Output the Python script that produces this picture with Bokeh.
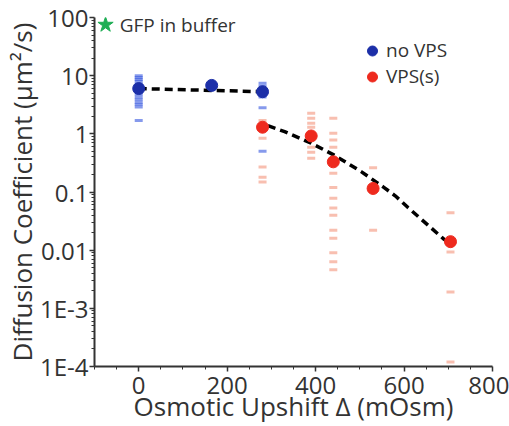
from bokeh.plotting import figure
from bokeh.models import (Range1d, FixedTicker, CustomJSTickFormatter, Legend,
                          LegendItem, Label)
from bokeh.embed import file_html
from bokeh.resources import INLINE

# ---- data ----
blue_x = [0, 165, 280]
blue_y = [6.0, 6.8, 5.3]
red_x = [280, 390, 440, 530, 705]
red_y = [1.3, 0.92, 0.33, 0.115, 0.014]

fit1_x = [0, 280]
fit1_y = [6.0, 5.3]
fit2_x = [292, 330, 390, 442, 470, 503, 555, 580, 609, 645, 690, 703]
fit2_y = [1.38, 1.09, 0.69, 0.43, 0.32, 0.224, 0.119, 0.086, 0.054, 0.031,
          0.0155, 0.0132]

# individual measurements (stripes)
blue_strip_x = [0] * 14 + [280] * 7
blue_strip_y = [10, 9.3, 8.6, 8.0, 7.2, 6.5, 5.3, 4.8, 4.3, 3.9, 3.5, 3.2, 2.9, 1.7,
                7.4, 6.6, 5.9, 4.6, 4.3, 2.8, 0.5]
red_strip_x = [280] * 5 + [390] * 7 + [440] * 14 + [530] * 2 + [705] * 4
red_strip_y = [1.7, 0.84, 0.27, 0.18, 0.148,
               2.25, 1.85, 1.52, 1.3, 0.59, 0.48, 0.38,
               1.85, 1.02, 0.78, 0.59, 0.21, 0.12, 0.078, 0.053, 0.040, 0.022,
               0.016, 0.009, 0.0063, 0.0046,
               0.26, 0.022,
               0.044, 0.0093, 0.0019, 0.00012]

gfp_x = [-75]
gfp_y = [75]

x_major = [0, 200, 400, 600, 800]
x_minor = [-100, -50, 50, 100, 150, 250, 300, 350, 450, 500, 550, 650, 700, 750]
y_major = [1e-4, 1e-3, 1e-2, 1e-1, 1, 10, 100]
y_minor = [k * 10.0 ** e for e in range(-4, 2) for k in range(2, 10)]

FONT = "Open Sans"
TXT = "#333333"

p = figure(width=509, height=426, output_backend="svg",
           toolbar_location=None,
           y_axis_type="log", x_range=Range1d(-100, 800),
           y_range=Range1d(1e-4, 100),
           min_border_left=92, min_border_right=17, min_border_top=17,
           min_border_bottom=60)
p.outline_line_color = None
p.grid.visible = False
p.background_fill_color = "white"
p.border_fill_color = "white"

p.xaxis.ticker = FixedTicker(ticks=x_major, minor_ticks=x_minor)
p.yaxis.ticker = FixedTicker(ticks=y_major, minor_ticks=y_minor)
p.yaxis.formatter = CustomJSTickFormatter(code="""
const e = Math.round(Math.log10(tick));
if (e >= 0) return String(Math.pow(10, e));
if (e >= -2) return Math.pow(10, e).toFixed(-e);
return "1E" + e;
""")

for ax in (p.xaxis[0], p.yaxis[0]):
    ax.axis_line_width = 2
    ax.axis_line_color = TXT
    ax.major_tick_line_color = TXT
    ax.minor_tick_line_color = TXT
    ax.major_tick_line_width = 1.5
    ax.minor_tick_line_width = 1
    ax.major_tick_out = 5
    ax.major_tick_in = 0
    ax.minor_tick_out = 3
    ax.minor_tick_in = 0
    ax.major_label_text_font = FONT
    ax.major_label_text_font_size = "24px"
    ax.major_label_text_color = TXT
    ax.axis_label_text_font = FONT
    ax.axis_label_text_font_size = "26px"
    ax.axis_label_text_font_style = "normal"
    ax.axis_label_text_color = TXT

p.xaxis.axis_label = "Osmotic Upshift Δ (mOsm)"
p.yaxis.axis_label = "Diffusion Coefficient (µm²/s)"
p.xaxis.major_label_standoff = 5
p.yaxis.major_label_standoff = 1
p.xaxis.axis_label_standoff = -9
p.yaxis.axis_label_standoff = -3

# stripes (individual measurements)
p.scatter(blue_strip_x, blue_strip_y, marker="dash", size=8, line_width=3,
          line_color="#3556e0", line_alpha=0.6)
p.scatter(red_strip_x, red_strip_y, marker="dash", size=8, line_width=3,
          line_color="#f07050", line_alpha=0.45)

# fit lines
p.line(fit1_x, fit1_y, line_color="black", line_width=3.5, line_dash="8 5")
p.line(fit2_x, fit2_y, line_color="black", line_width=3.5, line_dash="8 5")

# means
rb = p.scatter(blue_x, blue_y, size=12, fill_color="#1c2fa8", line_color="#1c2fa8")
rr = p.scatter(red_x, red_y, size=12, fill_color="#ee2a1e", line_color="#ee2a1e")

# GFP in buffer
p.scatter(gfp_x, gfp_y, marker="star", size=16, fill_color="#1fae55",
          line_color="#1fae55")
p.add_layout(Label(x=-43, y=73, text="GFP in buffer", text_font=FONT,
                   text_font_size="19px", text_color=TXT,
                   text_baseline="middle"))

legend = Legend(items=[LegendItem(label="no VPS", renderers=[rb]),
                       LegendItem(label="VPS(s)", renderers=[rr])],
                location=(264, 277), border_line_color=None,
                background_fill_alpha=0, padding=0, margin=0, spacing=0,
                glyph_width=28, glyph_height=25, label_standoff=0,
                label_text_font=FONT, label_text_font_size="19px",
                label_text_color=TXT)
p.add_layout(legend, "center")

open("out.html", "w").write(file_html(p, INLINE))
